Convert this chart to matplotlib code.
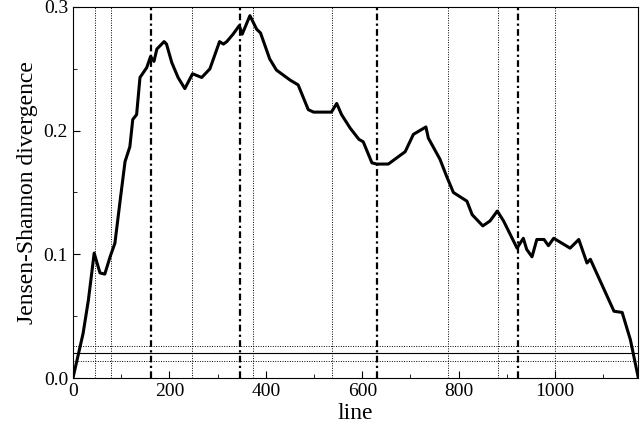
import matplotlib
matplotlib.use("Agg")
import matplotlib.pyplot as plt
from matplotlib.ticker import MultipleLocator

line_x = [0, 21, 32, 44, 56, 66, 77, 87, 98, 108, 118, 124, 132, 139, 153, 161, 168, 174,
          189, 194, 205, 218, 232, 248, 267, 284, 304, 312, 319, 332, 345, 351, 367, 381,
          389, 408, 422, 450, 467, 488, 499, 536, 547, 557, 575, 593, 602, 620, 630, 654,
          668, 689, 706, 732, 737, 761, 775, 789, 817, 828, 850, 865, 880, 893, 921, 934,
          941, 952, 962, 977, 986, 997, 1031, 1049, 1066, 1073, 1108, 1122, 1139, 1156, 1172]
jsd = [0.0, 0.036, 0.063, 0.101, 0.085, 0.084, 0.098, 0.109, 0.144, 0.175, 0.187, 0.209,
       0.213, 0.243, 0.251, 0.260, 0.256, 0.266, 0.272, 0.270, 0.255, 0.243, 0.234, 0.246,
       0.243, 0.250, 0.272, 0.270, 0.272, 0.278, 0.285, 0.278, 0.293, 0.282, 0.279, 0.258,
       0.249, 0.241, 0.237, 0.217, 0.215, 0.215, 0.222, 0.213, 0.202, 0.193, 0.191, 0.174,
       0.173, 0.173, 0.177, 0.183, 0.197, 0.203, 0.194, 0.177, 0.163, 0.150, 0.143, 0.132,
       0.123, 0.127, 0.135, 0.127, 0.105, 0.113, 0.104, 0.098, 0.112, 0.112, 0.107, 0.113,
       0.105, 0.112, 0.093, 0.096, 0.066, 0.054, 0.053, 0.031, 0.001]

dotted_x = [46, 78, 247, 373, 537, 778, 881, 1000]
dashed_x = [162, 346, 630, 922]
h_dotted = [0.026, 0.0138]
h_solid = [0.020]

plt.rcParams["font.family"] = ["Liberation Serif", "DejaVu Serif"]

fig = plt.figure(figsize=(6.4, 4.37), dpi=100)
ax = fig.add_axes([0.114, 0.135, 0.883, 0.849])

for x in dotted_x:
    ax.axvline(x, color="black", lw=0.7, ls=(0, (1, 1.5)))
for x in dashed_x:
    ax.axvline(x, color="black", lw=1.6, ls=(0, (3, 1.5, 1, 1.5)))
for y in h_dotted:
    ax.axhline(y, color="black", lw=0.7, ls=(0, (1, 1.5)))
for y in h_solid:
    ax.axhline(y, color="black", lw=0.8)

ax.plot(line_x, jsd, color="black", lw=2.2)

ax.set_xlim(0, 1172)
ax.set_ylim(0, 0.3)
ax.xaxis.set_major_locator(MultipleLocator(200))
ax.xaxis.set_minor_locator(MultipleLocator(100))
ax.yaxis.set_major_locator(MultipleLocator(0.1))
ax.yaxis.set_minor_locator(MultipleLocator(0.05))
ax.yaxis.set_major_formatter(plt.FuncFormatter(lambda v, p: f"{v:.1f}"))
ax.tick_params(which="both", direction="in", labelsize=14)
ax.tick_params(which="major", length=5)
ax.tick_params(which="minor", length=3)
ax.set_xlabel("line", fontsize=17, labelpad=2)
ax.set_ylabel("Jensen-Shannon divergence", fontsize=17, labelpad=4)

fig.savefig("out.png", dpi=100)
